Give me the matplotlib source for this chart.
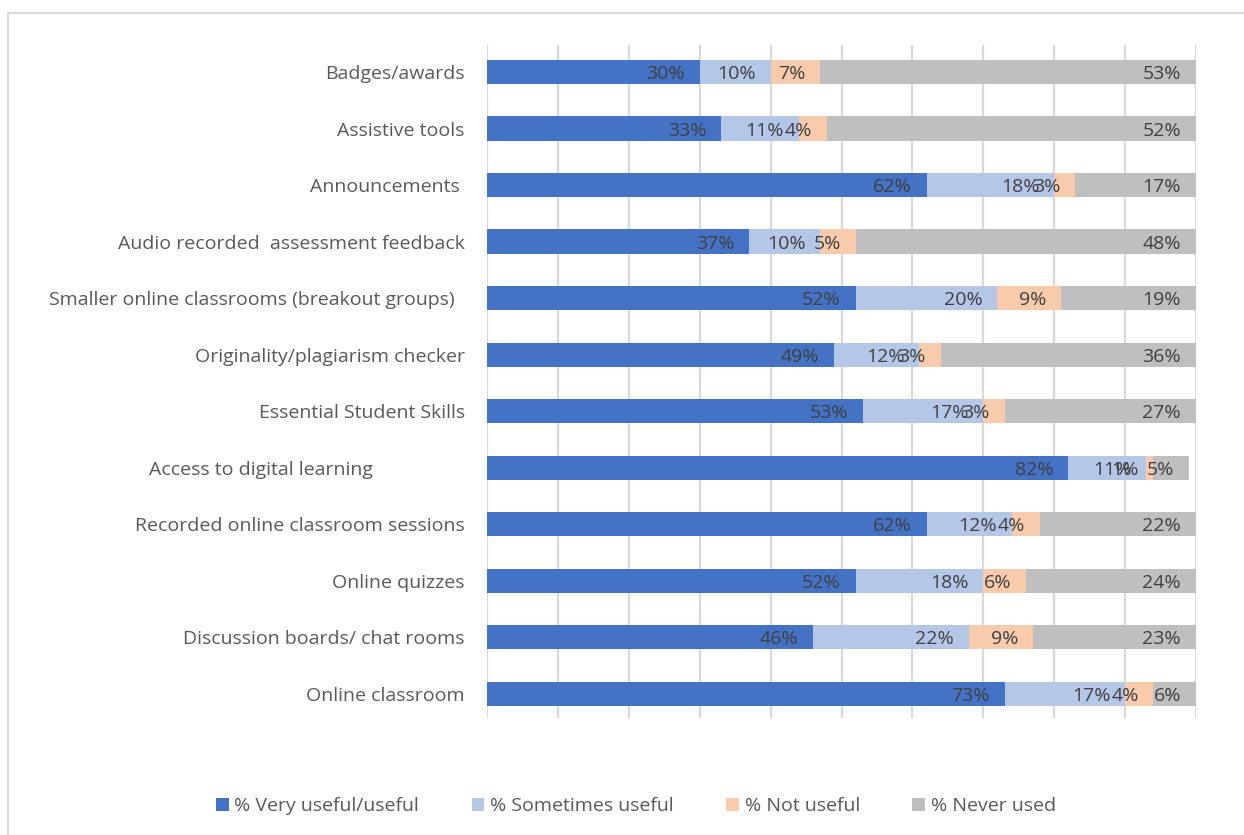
import matplotlib
matplotlib.use("Agg")
import matplotlib.pyplot as plt
from matplotlib.patches import Rectangle
import numpy as np

plt.rcParams['font.family'] = ['Open Sans', 'DejaVu Sans']

# survey items, listed top to bottom
tools = ["Badges/awards",
         "Assistive tools",
         "Announcements ",
         "Audio recorded  assessment feedback",
         "Smaller online classrooms (breakout groups)  ",
         "Originality/plagiarism checker",
         "Essential Student Skills",
         "Access to digital learning                  ",
         "Recorded online classroom sessions",
         "Online quizzes",
         "Discussion boards/ chat rooms",
         "Online classroom"]

very_useful = [30, 33, 62, 37, 52, 49, 53, 82, 62, 52, 46, 73]
sometimes_useful = [10, 11, 18, 10, 20, 12, 17, 11, 12, 18, 22, 17]
not_useful = [7, 4, 3, 5, 9, 3, 3, 1, 4, 6, 9, 4]
never_used = [53, 52, 17, 48, 19, 36, 27, 5, 22, 24, 23, 6]

series = [("% Very useful/useful", very_useful, "#4472C4"),
          ("% Sometimes useful", sometimes_useful, "#B4C7E7"),
          ("% Not useful", not_useful, "#F8CBAD"),
          ("% Never used", never_used, "#BFBFBF")]

lbl_col = "#404040"
txt = "#595959"
fs = 14

fig = plt.figure(figsize=(12.44, 8.35), dpi=100)
ax = fig.add_axes([487/1244, 1 - 718/835, (1196-487)/1244, (718-45)/835])

y = np.arange(len(tools))
left = np.zeros(len(tools))
for name, vals, col in series:
    vals = np.array(vals, dtype=float)
    ax.barh(y, vals, left=left, height=0.43, color=col, label=name, zorder=2)
    for yi, l, v in zip(y, left, vals):
        end = min(l + v, 100)
        ax.text(end - 2.1, yi + 0.04, f"{int(v)}%", ha="right", va="center",
                fontsize=fs, color=lbl_col, zorder=3)
    left += vals

ax.set_xlim(0, 100)
ax.set_ylim(11.43, -0.48)
ax.set_xticks(np.arange(0, 101, 10))
ax.xaxis.grid(True, color="#D9D9D9", linewidth=1.6, zorder=0)
ax.tick_params(axis="x", length=0, labelbottom=False)
ax.tick_params(axis="y", length=0, pad=16)
ax.set_yticks(y)
ax.set_yticklabels(tools, fontsize=fs, color=txt)
for s in ax.spines.values():
    s.set_visible(False)

fig.legend(loc="center", bbox_to_anchor=(636/1244, 1 - 806/835), ncol=4,
           frameon=False, fontsize=fs, handlelength=0.65, handleheight=0.65,
           handletextpad=0.3, columnspacing=2.7, labelcolor=txt)

# outer chart frame
fig.patches.append(Rectangle((8/1244, -0.05), 1.1, 1 - 13/835 + 0.05,
                             transform=fig.transFigure, fill=False,
                             edgecolor="#D9D9D9", linewidth=1.5))

fig.savefig("out.png", dpi=100)
